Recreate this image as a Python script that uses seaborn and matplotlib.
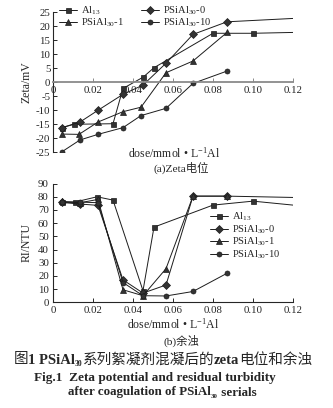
import numpy as np
import pandas as pd
import matplotlib
matplotlib.use("Agg")
import matplotlib.pyplot as plt
from matplotlib.font_manager import FontProperties
import seaborn as sns

# ---------------- data ----------------
# (a) Zeta potential
al13_zx = [0.0045, 0.0105, 0.030, 0.035, 0.045, 0.0505, 0.080, 0.100, 0.120]
al13_zy = [-16.3, -15.1, -14.9, -2.3, 1.7, 5.1, 17.4, 17.4, 17.7]
p0_zx = [0.0045, 0.0135, 0.0225, 0.035, 0.045, 0.0565, 0.070, 0.087, 0.120]
p0_zy = [-16.3, -14.3, -10.1, -4.4, -1.1, 6.7, 17.0, 21.5, 22.7]
p1_zx = [0.0045, 0.013, 0.0225, 0.035, 0.044, 0.0565, 0.070, 0.087]
p1_zy = [-18.6, -18.7, -14.3, -10.6, -9.0, 3.3, 7.5, 17.7]
p10_zx = [0.0045, 0.0135, 0.0225, 0.035, 0.044, 0.0565, 0.070, 0.087]
p10_zy = [-24.9, -20.7, -18.7, -16.3, -12.0, -9.4, -0.5, 3.9]

# (b) residual turbidity
al13_tx = [0.0045, 0.011, 0.022, 0.030, 0.045, 0.0505, 0.080, 0.100, 0.120]
al13_ty = [76.0, 76.0, 80.0, 77.5, 8.8, 57.0, 73.7, 76.7, 73.7]
p0_tx = [0.0045, 0.0135, 0.0225, 0.035, 0.045, 0.0565, 0.070, 0.087, 0.120]
p0_ty = [75.7, 74.5, 73.5, 17.0, 7.0, 13.1, 80.5, 80.5, 79.5]
p1_tx = [0.0045, 0.0135, 0.0225, 0.035, 0.045, 0.0565, 0.070, 0.087]
p1_ty = [76.5, 75.5, 78.0, 9.5, 5.0, 25.5, 80.5, 80.5]
p10_tx = [0.0045, 0.0135, 0.0225, 0.035, 0.045, 0.0565, 0.070, 0.087]
p10_ty = [75.7, 76.0, 75.5, 15.0, 5.0, 4.8, 8.2, 22.0]

labels = [r"Al$_{13}$", r"PSiAl$_{30}$-0", r"PSiAl$_{30}$-1", r"PSiAl$_{30}$-10"]
markers = ["s", "D", "^", "o"]
x_ticks = [0, 0.02, 0.04, 0.06, 0.08, 0.10, 0.12]
x_ticklabels = ["0", "0.02", "0.04", "0.06", "0.08", "0.10", "0.12"]
zeta_ticks = [-25, -20, -15, -10, -5, 0, 5, 10, 15, 20, 25]
ntu_ticks = [0, 10, 20, 30, 40, 50, 60, 70, 80, 90]

# ---------------- style ----------------
sns.set_style("ticks")
plt.rcParams["font.family"] = ["Liberation Serif", "Noto Sans CJK SC"]
plt.rcParams["mathtext.fontset"] = "custom"
plt.rcParams["mathtext.rm"] = "Liberation Serif"
plt.rcParams["mathtext.it"] = "Liberation Serif:italic"
plt.rcParams["mathtext.bf"] = "Liberation Serif:bold"
plt.rcParams["axes.unicode_minus"] = False

W, H = 333, 408
fig = plt.figure(figsize=(W / 100, H / 100), dpi=100)

def frac_axes(left, top, right, bottom):
    return fig.add_axes([left / W, 1 - bottom / H, (right - left) / W, (bottom - top) / H])

ax1 = frac_axes(53, 12, 293, 152)
ax2 = frac_axes(53, 183.6, 293, 302.3)

LC = "#1c1c1c"
TFS = 7.8
LFS = 7.6

def draw(ax, xs, ys, lab, mk, endless):
    n = len(xs)
    me = list(range(n - 1)) if endless else None
    df = pd.DataFrame({"x": xs, "y": ys})
    sns.lineplot(data=df, x="x", y="y", ax=ax, sort=False, estimator=None,
                 color=LC, linewidth=0.7, marker=mk, markersize=3.6 if mk != "^" else 4.2,
                 markeredgecolor=LC, markerfacecolor="#333333", markeredgewidth=0.5,
                 markevery=me, label=lab)

# ---- (a) ----
series_a = [(al13_zx, al13_zy, True), (p0_zx, p0_zy, True), (p1_zx, p1_zy, False), (p10_zx, p10_zy, False)]
for (xs, ys, endless), lab, mk in zip(series_a, labels, markers):
    draw(ax1, xs, ys, lab, mk, endless)
ax1.set_xlim(0, 0.12)
ax1.set_ylim(-25, 25)
ax1.set_yticks(zeta_ticks)
ax1.set_xticks(x_ticks)
ax1.set_xticklabels(x_ticklabels)
ax1.spines["top"].set_visible(False)
ax1.spines["right"].set_visible(False)
ax1.spines["bottom"].set_position(("data", 0))
ax1.spines["bottom"].set_color("#8a8a8a")
ax1.spines["bottom"].set_linewidth(1.3)
ax1.spines["left"].set_linewidth(0.8)
ax1.tick_params(axis="both", direction="in", labelsize=TFS, length=3, width=0.7, pad=2)
ax1.tick_params(axis="x", colors="#8a8a8a", labelcolor="#222222", pad=3)
ax1.set_xlabel("")
ax1.set_ylabel("Zeta/mV", fontsize=8.5, labelpad=2)
h, l = ax1.get_legend_handles_labels()
order = [0, 2, 1, 3]
ax1.legend([h[i] for i in order], [l[i] for i in order], loc="upper left",
           bbox_to_anchor=(0.025, 1.055), ncol=2, frameon=False,
           fontsize=LFS, handlelength=1.7, handletextpad=0.4, columnspacing=1.6,
           labelspacing=0.0, borderaxespad=0.0, borderpad=0.0)
fig.text(174 / W, 1 - 153 / H, r"dose/mmol • L$^{-1}$Al", ha="center", va="center", fontsize=8.5)
fig.text(181 / W, 1 - 168 / H, "(a)Zeta电位", ha="center", va="center", fontsize=8.2)

# ---- (b) ----
series_b = [(al13_tx, al13_ty, True), (p0_tx, p0_ty, True), (p1_tx, p1_ty, False), (p10_tx, p10_ty, False)]
for (xs, ys, endless), lab, mk in zip(series_b, labels, markers):
    draw(ax2, xs, ys, lab, mk, endless)
ax2.set_xlim(0, 0.12)
ax2.set_ylim(0, 90)
ax2.set_yticks(ntu_ticks)
ax2.set_xticks(x_ticks)
ax2.set_xticklabels(x_ticklabels)
ax2.spines["top"].set_visible(False)
ax2.spines["right"].set_visible(False)
for s in ("left", "bottom"):
    ax2.spines[s].set_linewidth(0.8)
ax2.tick_params(axis="both", direction="in", labelsize=TFS, length=3, width=0.7, pad=3)
ax2.set_xlabel(r"dose/mmol • L$^{-1}$Al", fontsize=8.5, labelpad=1)
ax2.set_ylabel("RI/NTU", fontsize=8.5, labelpad=4)
ax2.legend(loc="upper left", bbox_to_anchor=(0.655, 0.77), ncol=1, frameon=False,
           fontsize=LFS, handlelength=1.7, handletextpad=0.4, labelspacing=0.0,
           borderaxespad=0.0, borderpad=0.0)
fig.text(181 / W, 1 - 341 / H, "(b)余浊", ha="center", va="center", fontsize=8.2)

# ---- caption, built from pieces so CJK and subscripts can mix ----
SER_B = dict(family="Liberation Serif", weight="bold")
CJK = dict(family="Noto Sans CJK SC", weight="normal")

def place_line(pieces, cx, cy, target_w):
    renderer = fig.canvas.get_renderer()
    def build(scale):
        arts = []
        x = 0.0
        for txt, props, size, dy in pieces:
            t = fig.text(0, 0, txt, fontproperties=FontProperties(size=size * scale, **props),
                         ha="left", va="baseline", transform=None)
            bb = t.get_window_extent(renderer)
            arts.append((t, x, dy * scale))
            x += bb.width
        return arts, x
    arts, wid = build(1.0)
    scale = target_w / wid
    for t, _, _ in arts:
        t.remove()
    arts, wid = build(scale)
    x0 = cx - wid / 2
    base = H - cy - 3.5
    for t, x, dy in arts:
        t.set_position((x0 + x, base + dy))

place_line([("图", CJK, 9.5, 0), ("1 PSiAl", SER_B, 9.5, 0), ("30", SER_B, 5.0, -2.5),
            ("系列絮凝剂混凝后的", CJK, 9.5, 0), ("zeta", SER_B, 9.5, 0),
            ("电位和余浊", CJK, 9.5, 0)], 163, 360, 300)
place_line([("Fig.1  Zeta potential and residual turbidity", SER_B, 9.5, 0)], 155, 377, 244)
place_line([("after coagulation of PSiAl", SER_B, 9.5, 0), ("30", SER_B, 5.0, -2.5),
            (" serials", SER_B, 9.5, 0)], 162.5, 392, 189)

fig.savefig("out.png", dpi=100)
